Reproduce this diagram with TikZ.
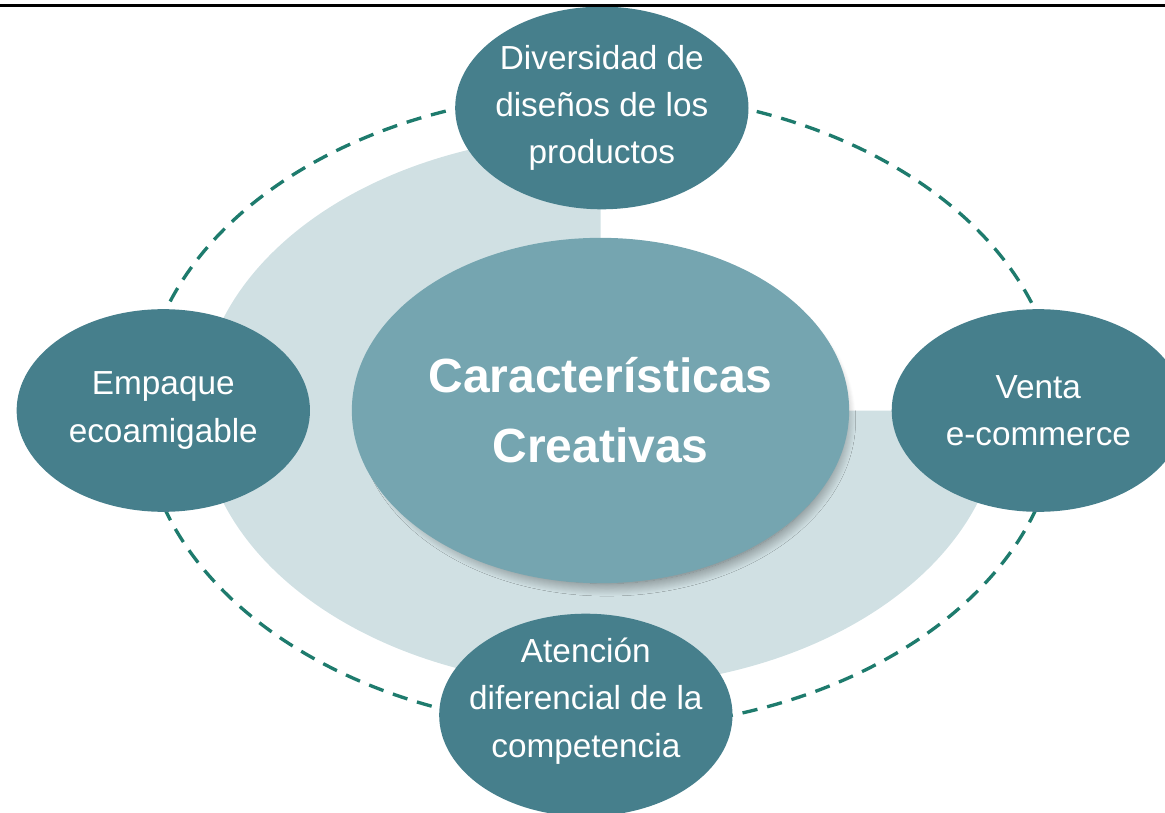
\documentclass[tikz,border=0pt]{standalone}
\usepackage{fontspec}
\setmainfont{Liberation Sans}
\usepackage{tikz}
\usetikzlibrary{positioning, shapes.geometric, backgrounds, shadows.blur}

\definecolor{tealdark}{HTML}{467F8C}
\definecolor{tealmid}{HTML}{75A5B0}
\definecolor{tealpale}{HTML}{D0E0E3}
\definecolor{ringgreen}{HTML}{1E7B6D}

\begin{document}
\begin{tikzpicture}[x=0.75pt, y=-0.75pt,
                featurebox/.style={ellipse, fill=tealdark, minimum width=220pt, minimum height=152pt,
                                   inner xsep=-14pt, inner ysep=0pt, align=center, text=white,
                                   font=\fontsize{25}{35.5}\selectfont},
                hubbox/.style={ellipse, fill=tealmid, minimum width=373pt, minimum height=259pt,
                               inner sep=0pt, align=center, text=white,
                               font=\fontsize{36}{52.5}\selectfont\bfseries,
                               blur shadow={shadow xshift=5pt, shadow yshift=-7pt, shadow scale=0.95,
                                            shadow blur radius=10pt, shadow blur steps=14,
                                            shadow opacity=55}},
                dashring/.style={ringgreen, line width=2.5pt, dash pattern=on 11.5pt off 7.5pt}]

                \useasboundingbox (0,0) rectangle (1165,813);

                % Centre
                \node[hubbox] (hub) at (600.5,410.5) {Características\\Creativas};

                % Backdrop and ring
                \begin{scope}[on background layer]
                    \fill[tealpale] (hub.center) -- ++(0,-276)
                        arc[start angle=-90, end angle=-360, x radius=400, y radius=276] -- cycle;
                    \draw[dashring] (hub.center) ellipse [x radius=458, y radius=318];
                \end{scope}

                % Features
                \node[featurebox, above=21pt of hub, xshift=1pt] (designs) {Diversidad de\\diseños de los\\productos};
                \node[featurebox, left=31pt of hub] (packaging) {Empaque\\ecoamigable};
                \node[featurebox, right=31.5pt of hub] (ecommerce) {Venta\\e-commerce};
                \node[featurebox, below=22.5pt of hub, xshift=-11pt, text height=71pt, text depth=8pt]
                    (service) {Atención\\diferencial de la\\competencia};

                % Top rule
                \draw[line width=1.9pt] (0,5.5) -- (1165,5.5);
\end{tikzpicture}
\end{document}
